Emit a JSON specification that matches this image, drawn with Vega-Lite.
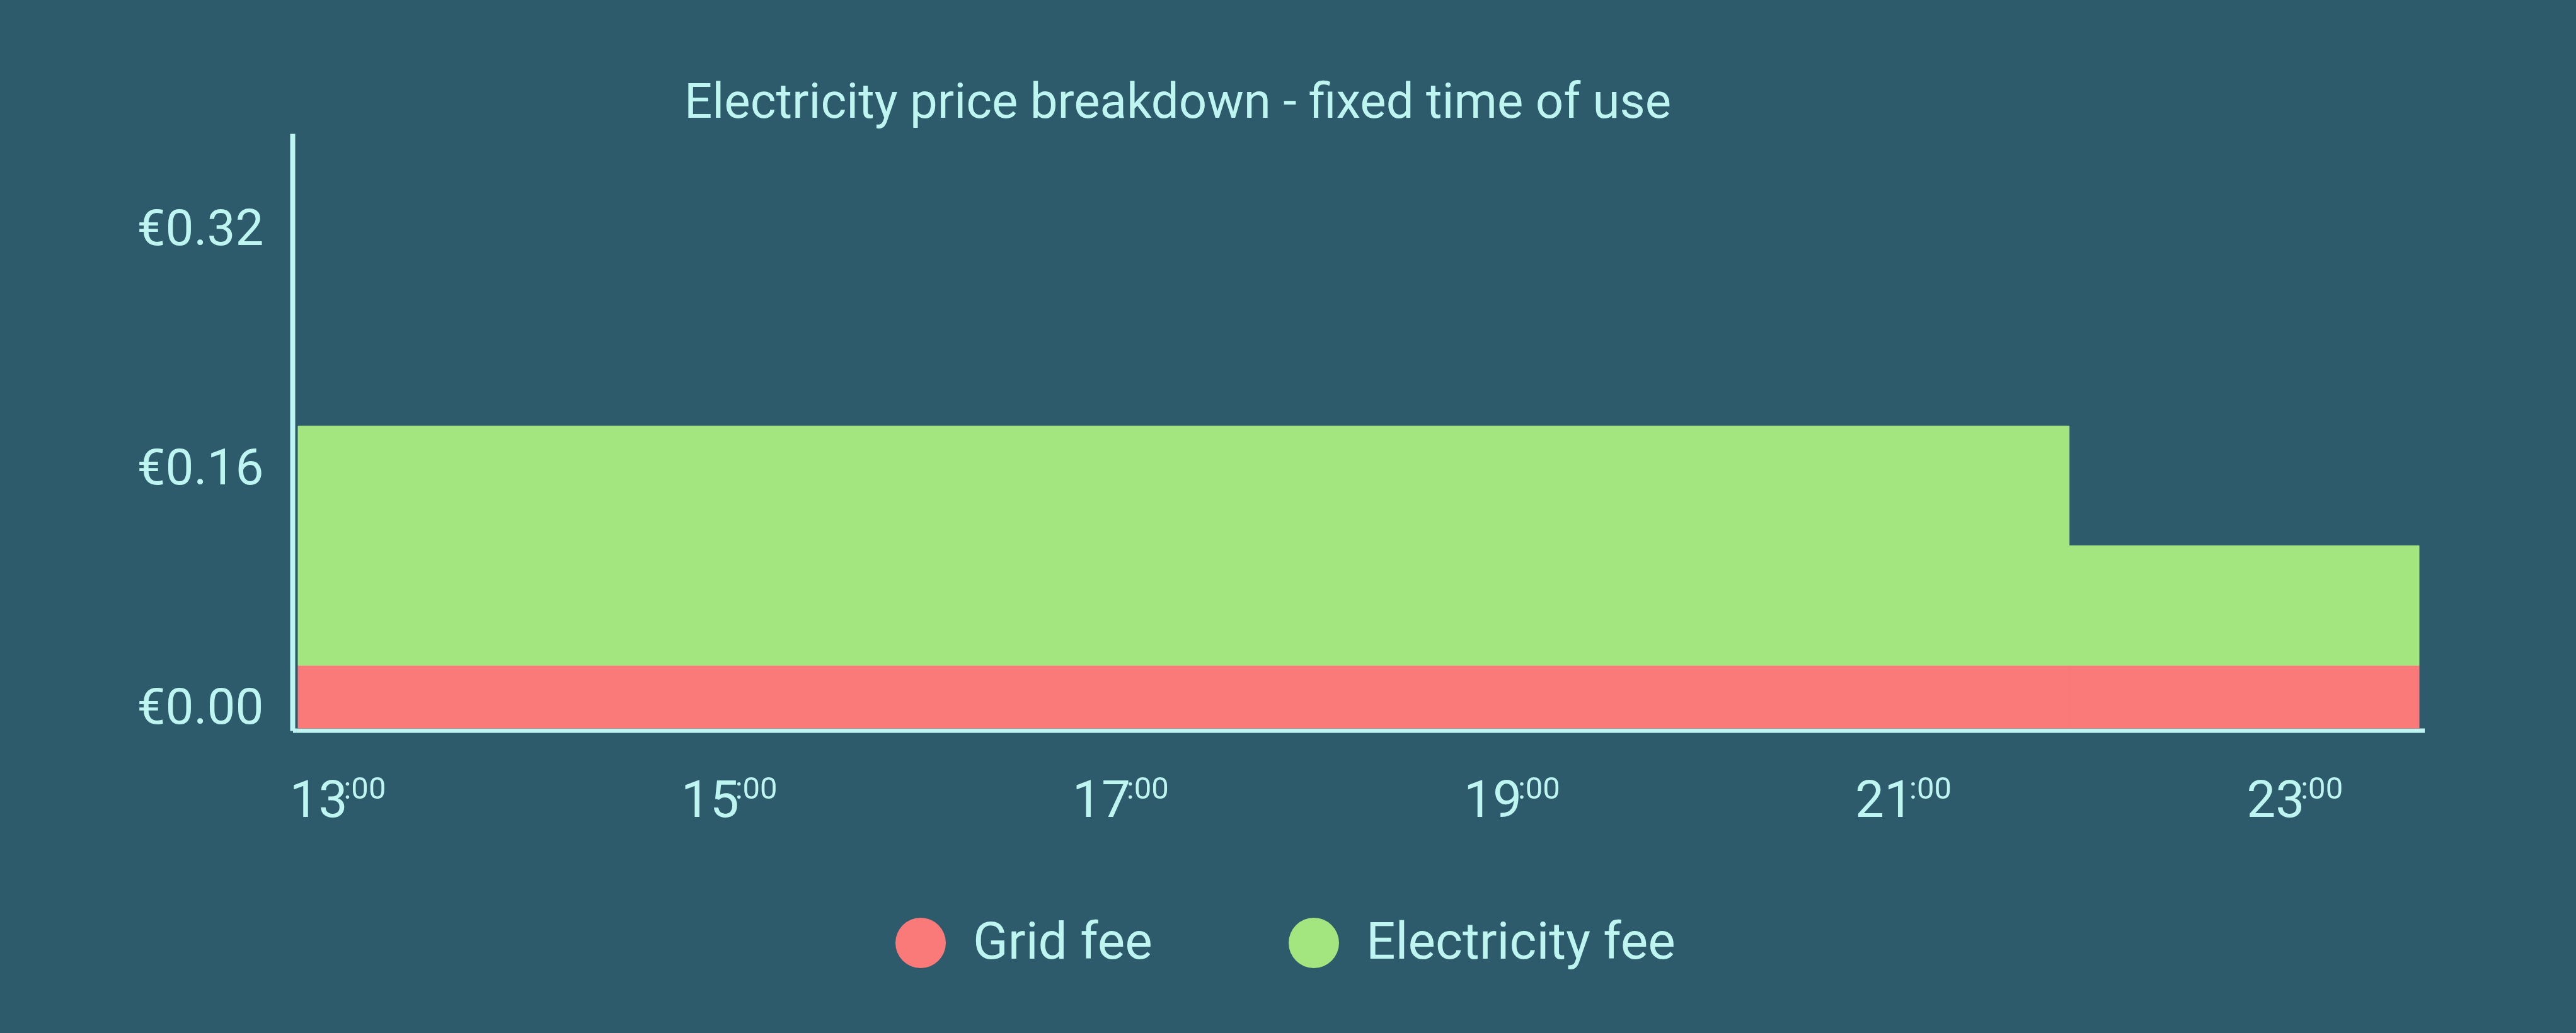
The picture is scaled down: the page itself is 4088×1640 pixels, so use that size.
{
  "$schema": "https://vega.github.io/schema/vega-lite/v6.json",
  "autosize": {"type": "none"},
  "padding": {"left": 468, "top": 216, "right": 244, "bottom": 484},
  "width": 3376,
  "height": 940,
  "background": "#2D5B6B",
  "config": {
    "font": "Roboto",
    "view": {"stroke": null},
    "legend": {
      "orient": "none",
      "legendX": 952,
      "legendY": 1240,
      "direction": "horizontal",
      "symbolType": "circle",
      "symbolSize": 6400,
      "symbolStrokeWidth": 0,
      "symbolOpacity": 1,
      "labelFontSize": 82,
      "labelColor": "#BEF5F0",
      "labelFont": "Roboto",
      "labelOffset": 42,
      "columnPadding": 215,
      "padding": 0,
      "labelLimit": 1000
    }
  },
  "title": {
    "text": "Electricity price breakdown - fixed time of use",
    "anchor": "start",
    "frame": "group",
    "dx": 618,
    "offset": -49,
    "baseline": "alphabetic",
    "fontSize": 78,
    "fontWeight": "normal",
    "font": "Roboto",
    "color": "#BEF5F0"
  },
  "data": {
    "values": [
      {"start": 13, "end": 22.05, "fee": "Grid fee", "price": 0.042},
      {"start": 13, "end": 22.05, "fee": "Electricity fee", "price": 0.16},
      {"start": 22.05, "end": 23.838, "fee": "Grid fee", "price": 0.042},
      {"start": 22.05, "end": 23.838, "fee": "Electricity fee", "price": 0.08}
    ]
  },
  "layer": [
    {
      "mark": {"type": "bar", "orient": "vertical", "strokeWidth": 1},
      "encoding": {
        "x": {
          "field": "start",
          "type": "quantitative",
          "scale": {"domain": [13, 23.838], "nice": false, "zero": false},
          "axis": {
            "orient": "bottom",
            "values": [13, 15, 17, 19, 21, 23],
            "labelExpr": "format(datum.value, 'd')",
            "labelFontSize": 82,
            "labelColor": "#BEF5F0",
            "labelAlign": "left",
            "labelBaseline": "alphabetic",
            "labelOffset": -14,
            "labelPadding": 137,
            "ticks": false,
            "tickSize": 0,
            "grid": false,
            "domain": true,
            "domainColor": "#BEF5F0",
            "domainWidth": 7,
            "domainCap": "square",
            "offset": 3.5,
            "labelFlush": false,
            "labelOverlap": false,
            "title": null
          }
        },
        "x2": {"field": "end"},
        "y": {
          "field": "price",
          "type": "quantitative",
          "stack": "zero",
          "scale": {"domain": [0, 0.3958], "nice": false},
          "axis": {
            "values": [0, 0.16, 0.32],
            "labelExpr": "'€' + format(datum.value, '.2f')",
            "labelFontSize": 80,
            "labelColor": "#BEF5F0",
            "labelBaseline": "alphabetic",
            "labelOffset": -8,
            "labelPadding": 46,
            "labelLimit": 1000,
            "ticks": false,
            "tickSize": 0,
            "grid": false,
            "domain": true,
            "domainColor": "#BEF5F0",
            "domainWidth": 8,
            "domainCap": "square",
            "offset": 4,
            "labelOverlap": false,
            "title": null
          }
        },
        "color": {
          "field": "fee",
          "type": "nominal",
          "scale": {"domain": ["Grid fee", "Electricity fee"], "range": ["#F97A78", "#A3E57E"]},
          "legend": {"title": null}
        },
        "stroke": {
          "field": "fee",
          "type": "nominal",
          "scale": {"domain": ["Grid fee", "Electricity fee"], "range": ["#F97A78", "#A3E57E"]},
          "legend": null
        },
        "order": {"field": "fee", "sort": "descending"}
      }
    },
    {
      "mark": {"type": "rule", "strokeOpacity": 0},
      "encoding": {
        "x": {
          "field": "start",
          "type": "quantitative",
          "axis": {
            "orient": "bottom",
            "values": [13, 15, 17, 19, 21, 23],
            "labelExpr": "':00'",
            "labelFontSize": 49,
            "labelColor": "#BEF5F0",
            "labelAlign": "left",
            "labelBaseline": "alphabetic",
            "labelOffset": 72,
            "labelPadding": 108,
            "ticks": false,
            "tickSize": 0,
            "grid": false,
            "domain": false,
            "offset": 3.5,
            "labelFlush": false,
            "labelOverlap": false,
            "title": null
          }
        }
      }
    }
  ],
  "resolve": {"axis": {"x": "independent"}}
}
